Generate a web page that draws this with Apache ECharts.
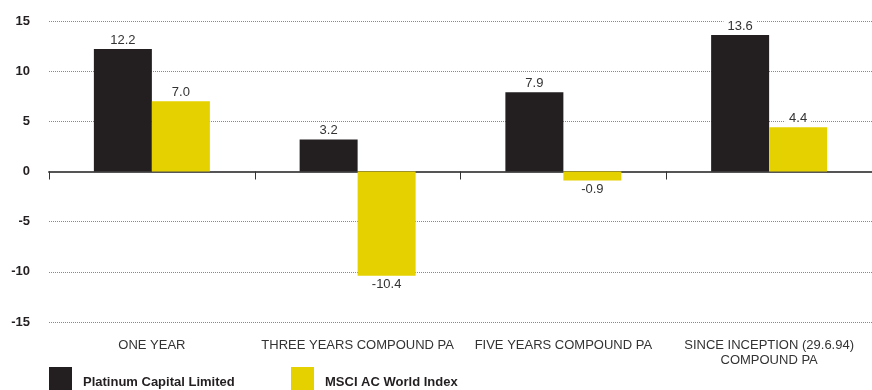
<!DOCTYPE html>
<html>
<head>
<meta charset="utf-8">
<script src="https://cdn.jsdelivr.net/npm/echarts@6/dist/echarts.min.js"></script>
<style>
  html, body { margin: 0; padding: 0; background: #fff; }
  #chart { width: 872px; height: 390px; }
</style>
</head>
<body>
<div id="chart"></div>
<script>
const categories = ['ONE YEAR', 'THREE YEARS COMPOUND PA', 'FIVE YEARS COMPOUND PA', 'SINCE INCEPTION (29.6.94)\nCOMPOUND PA']
const platinum = [12.2, 3.2, 7.9, 13.6]
const msci = [7.0, -10.4, -0.9, 4.4]
const seriesNames = ['Platinum Capital Limited', 'MSCI AC World Index']

const FONT = '"Liberation Sans", Arial, Helvetica, sans-serif'

const chart = echarts.init(document.getElementById('chart'))

// negative bars get their label underneath
const withLabels = (values) => values.map(v => ({
  value: v,
  label: { position: v < 0 ? 'bottom' : 'top' }
}))

const barLabel = {
  show: true,
  color: '#333',
  fontSize: 13,
  fontFamily: FONT,
  backgroundColor: '#fff',
  padding: [0, 4],
  distance: 2,
  formatter: p => p.value.toFixed(1)
}

const legendBase = {
  top: 367,
  padding: 0,
  icon: 'rect',
  itemWidth: 23,
  itemHeight: 30,
  itemStyle: { borderWidth: 0 },
  textStyle: {
    fontFamily: FONT,
    fontWeight: 'bold',
    fontSize: 13,
    color: '#231f20',
    padding: [6, 0, 0, 6]
  }
}

const option = {
  animation: false,
  textStyle: { fontFamily: FONT },
  legend: [
    Object.assign({}, legendBase, { left: 49, data: [seriesNames[0]] }),
    Object.assign({}, legendBase, { left: 291, data: [seriesNames[1]] })
  ],
  grid: { left: 49, right: 0, top: 21, bottom: 68 },
  xAxis: [
    {
      type: 'category',
      data: categories,
      axisLine: { onZero: true, lineStyle: { color: '#555', width: 2 } },
      axisTick: { show: true, interval: 0, length: 8, lineStyle: { color: '#333', width: 1 } },
      axisLabel: { show: false }
    },
    {
      type: 'category',
      data: categories,
      position: 'bottom',
      axisLine: { show: false },
      axisTick: { show: false },
      axisLabel: {
        interval: 0,
        margin: 16,
        color: '#333',
        fontSize: 13,
        fontFamily: FONT,
        lineHeight: 15
      }
    }
  ],
  yAxis: {
    type: 'value',
    min: -15,
    max: 15,
    interval: 5,
    axisLine: { show: false },
    axisTick: { show: false },
    axisLabel: {
      margin: 19,
      color: '#231f20',
      fontSize: 13,
      fontWeight: 'bold',
      fontFamily: FONT
    },
    splitLine: { lineStyle: { color: '#888', type: 'dotted', width: 1 } }
  },
  series: [
    {
      name: seriesNames[0],
      type: 'bar',
      data: withLabels(platinum),
      barWidth: 58,
      barGap: '0%',
      itemStyle: { color: '#231f20' },
      label: barLabel
    },
    {
      name: seriesNames[1],
      type: 'bar',
      data: withLabels(msci),
      barWidth: 58,
      barGap: '0%',
      itemStyle: { color: '#e5d000' },
      label: barLabel
    }
  ]
}

chart.setOption(option)
</script>
</body>
</html>
